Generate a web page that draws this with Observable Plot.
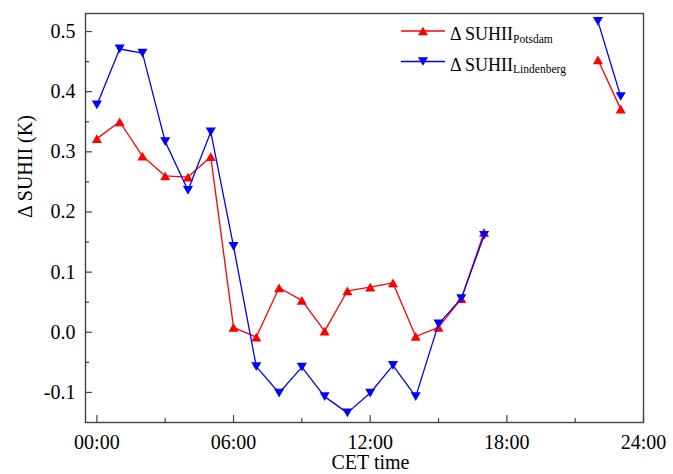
<!DOCTYPE html>
<html><head><meta charset="utf-8">
<script src="https://cdn.jsdelivr.net/npm/d3@7"></script>
<script src="https://cdn.jsdelivr.net/npm/@observablehq/plot@0.6"></script>
<style>
body{margin:0;background:#fff;}
#chart{position:relative;width:673px;height:474px;font-family:"Liberation Serif","Times New Roman",serif;}
#chart svg, #chart svg text{font-family:"Liberation Serif","Times New Roman",serif !important;}
#legend{position:absolute;left:0;top:0;pointer-events:none;}
</style></head><body><div id="chart"></div>
<script>
// ---- data ----
const hours      = [0,1,2,3,4,5,6,7,8,9,10,11,12,13,14,15,16,17,22,23];
const potsdam    = [0.322,0.350,0.293,0.260,0.258,0.292,0.008,-0.008,0.074,0.053,0.002,0.069,0.075,0.082,-0.007,0.008,0.056,0.166,0.453,0.371];
const lindenberg = [0.378,0.471,0.464,0.317,0.236,0.333,0.143,-0.057,-0.101,-0.058,-0.107,-0.134,-0.101,-0.055,-0.107,0.014,0.056,0.161,0.517,0.392];
const seriesNames  = ["Potsdam","Lindenberg"];
const seriesColors = ["#ff0000","#0000ff"];
const xTickValues = [0,6,12,18,24];
const xTickLabels = ["00:00","06:00","12:00","18:00","24:00"];
const xMinorTicks = [3,9,15,21];
const yTickValues = [-0.1,0,0.1,0.2,0.3,0.4,0.5];
const yMinorTicks = [-0.05,0.05,0.15,0.25,0.35,0.45];
const yTitle = "Δ SUHII (K)";
const xTitle = "CET time";
const legendMain = "Δ SUHII";

// ---- layout ----
const W = 673, H = 474, mL = 85, mR = 30, mT = 13, mB = 52;
const innerW = W - mL - mR, innerH = H - mT - mB;
const font = "Liberation Serif";

function triangle(up) {
  return {draw(ctx, size) {
    const r = Math.sqrt(size / Math.PI);
    const hw = r * 1.12, hh = hw * Math.sqrt(3) / 2;
    const s = up ? 1 : -1;
    ctx.moveTo(0, -s * hh);
    ctx.lineTo(hw, s * hh);
    ctx.lineTo(-hw, s * hh);
    ctx.closePath();
  }};
}
const triUp = triangle(true), triDown = triangle(false);

const mk = vals => hours.map((h, i) => ({hour: h, value: vals[i], seg: h > 17 ? "b" : "a"}));
const potData = mk(potsdam), linData = mk(lindenberg);

const plot = Plot.plot({
  width: W, height: H,
  marginLeft: mL, marginRight: mR, marginTop: mT, marginBottom: mB,
  style: {fontFamily: font, fontSize: "20px", background: "white", color: "#000"},
  x: {domain: [-0.5, 24], axis: null},
  y: {domain: [-0.15, 0.53], axis: null},
  marks: [
    Plot.tickY(yTickValues, {y: d => d, insetRight: innerW - 7, stroke: "#444", strokeWidth: 1.2}),
    Plot.tickY(yMinorTicks, {y: d => d, insetRight: innerW - 4, stroke: "#444", strokeWidth: 1.2}),
    Plot.tickX(xTickValues, {x: d => d, insetTop: innerH - 7, stroke: "#444", strokeWidth: 1.2}),
    Plot.tickX(xMinorTicks, {x: d => d, insetTop: innerH - 4, stroke: "#444", strokeWidth: 1.2}),
    Plot.axisY(yTickValues, {tickSize: 0, tickPadding: 10, tickFormat: d => d.toFixed(1), fontSize: 20, fontFamily: font, fill: "#000", label: null}),
    Plot.axisX(xTickValues, {tickSize: 0, tickPadding: 12, tickFormat: d => xTickLabels[xTickValues.indexOf(d)], fontSize: 20, fontFamily: font, fill: "#000", label: null}),
    Plot.text([yTitle], {text: d => d, frameAnchor: "left", dx: -60, rotate: -90, fontSize: 20, fontFamily: font, fill: "#000"}),
    Plot.text([xTitle], {text: d => d, frameAnchor: "bottom", dx: 6, dy: 46, fontSize: 20, fontFamily: font, fill: "#000"}),
    Plot.line(potData, {x: "hour", y: "value", z: "seg", stroke: seriesColors[0], strokeWidth: 1.3}),
    Plot.dot(potData, {x: "hour", y: "value", symbol: triUp, r: 4.5, fill: seriesColors[0], stroke: "none"}),
    Plot.line(linData, {x: "hour", y: "value", z: "seg", stroke: seriesColors[1], strokeWidth: 1.3}),
    Plot.dot(linData, {x: "hour", y: "value", symbol: triDown, r: 4.5, fill: seriesColors[1], stroke: "none"}),
    Plot.frame({stroke: "#444", strokeWidth: 1.4})
  ]
});
const chart = document.getElementById("chart");
chart.appendChild(plot);

// ---- legend (inside plot, top right) ----
const ns = "http://www.w3.org/2000/svg";
const lg = document.createElementNS(ns, "svg");
lg.setAttribute("id", "legend");
lg.setAttribute("width", W); lg.setAttribute("height", H);
const syms = [triUp, triDown];
seriesNames.forEach((name, i) => {
  const cy = 31 + i * 30.5;
  const line = document.createElementNS(ns, "line");
  line.setAttribute("x1", 401); line.setAttribute("x2", 445);
  line.setAttribute("y1", cy); line.setAttribute("y2", cy);
  line.setAttribute("stroke", seriesColors[i]); line.setAttribute("stroke-width", 1.3);
  lg.appendChild(line);
  const p = d3.path();
  syms[i].draw(p, 4.5 * 4.5 * Math.PI);
  const path = document.createElementNS(ns, "path");
  path.setAttribute("d", p.toString());
  path.setAttribute("transform", `translate(423,${cy})`);
  path.setAttribute("fill", seriesColors[i]);
  lg.appendChild(path);
  const t = document.createElementNS(ns, "text");
  t.setAttribute("x", 450); t.setAttribute("y", cy + 9);
  t.setAttribute("font-family", font); t.setAttribute("font-size", 18);
  const t1 = document.createElementNS(ns, "tspan");
  t1.textContent = legendMain;
  const t2 = document.createElementNS(ns, "tspan");
  t2.setAttribute("font-size", 11.5); t2.setAttribute("dy", 2.5);
  t2.textContent = name;
  t.appendChild(t1); t.appendChild(t2);
  lg.appendChild(t);
});
chart.appendChild(lg);
</script>
</body></html>
